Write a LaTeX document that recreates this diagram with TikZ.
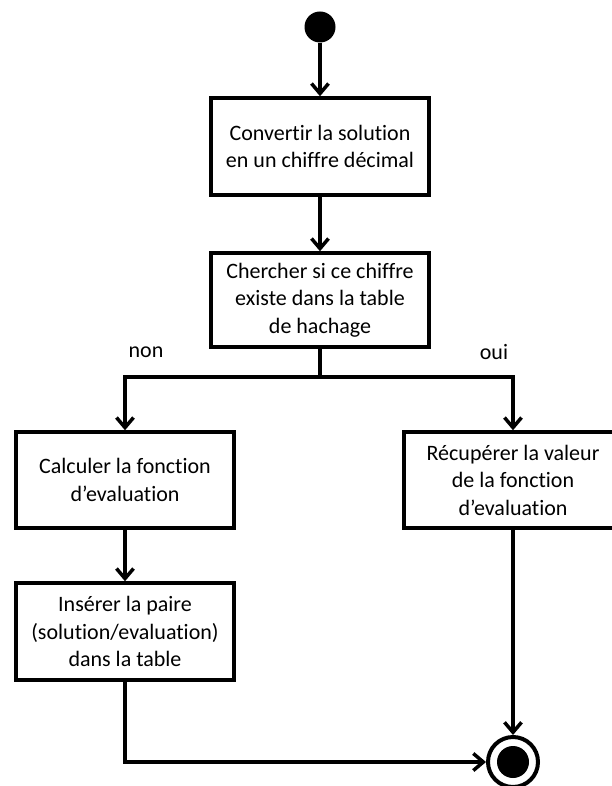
\documentclass[tikz,border=0pt]{standalone}
\usepackage{fontspec}
\setmainfont{Carlito}[Ligatures=NoCommon]
\usetikzlibrary{arrows.meta}

\tikzset{
  stepbox/.style={draw, line width=3.5pt, rectangle, align=center, inner sep=0pt,
    minimum width=218pt, font=\fontsize{22}{27.5}\selectfont},
  flow/.style={line width=3.5pt, -{Straight Barb[length=10pt,width=17pt]}},
  plain/.style={line width=3.5pt},
  lbl/.style={font=\fontsize{22}{27.5}\selectfont, inner sep=0pt},
}

\begin{document}
\begin{tikzpicture}[x=1pt, y=-1pt]
  \useasboundingbox (0,0) rectangle (612,786);
  \begin{scope}
  \clip (0,0) rectangle (612,786);

  % start and end states
  \node[circle, fill=black, inner sep=0pt, minimum size=31pt] (start) at (320,27) {};
  \node[circle, draw, line width=4pt, inner sep=0pt, minimum size=50pt] (stop) at (513,762) {};
  \fill (stop.center) circle (16pt);

  % activity boxes
  \node[stepbox, minimum height=97pt] (conv) at (320,146.5)
    {Convertir la solution\\en un chiffre décimal};
  \node[stepbox, minimum height=94pt] (search) at (320,300)
    {Chercher si ce chiffre\\existe dans la table\\de hachage};
  \node[stepbox, minimum height=96pt] (calc) at (125,480)
    {Calculer la fonction\\d’evaluation};
  \node[stepbox, minimum height=96pt] (fetch) at (513,480)
    {Récupérer la valeur\\de la fonction\\d’evaluation};
  \node[stepbox, minimum height=97pt] (insert) at (125,631.5)
    {Insérer la paire\\(solution/evaluation)\\dans la table};

  % branch point and guard labels
  \coordinate (split) at (320,377);
  \node[lbl] (non) at (146,352) {non};
  \node[lbl] (oui) at (494,352) {oui};

  % transitions
  \draw[flow] (start) -- (conv);
  \draw[flow] (conv) -- (search);
  \draw[plain] (search.south) -- (split);
  \draw[flow] (split) -| (calc.north);
  \draw[flow] (split) -| (fetch.north);
  \draw[flow] (calc) -- (insert);
  \draw[flow] (insert.south) |- (stop.west);
  \draw[flow] (fetch.south) -- (stop.north);
  \end{scope}
\end{tikzpicture}
\end{document}
